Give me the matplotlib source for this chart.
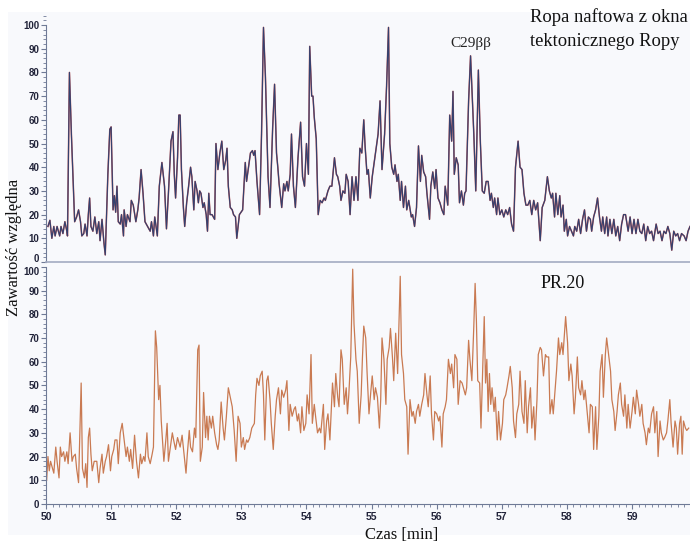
import matplotlib
matplotlib.use("Agg")
import matplotlib.pyplot as plt
from matplotlib.patches import Rectangle
from matplotlib.ticker import MultipleLocator

# ---- top chromatogram (crude oil) ----
top_t = [50.03, 50.06, 50.09, 50.12, 50.14, 50.17, 50.21, 50.23, 50.26, 50.29, 50.32, 50.33,
         50.36, 50.39, 50.44, 50.47, 50.50, 50.53, 50.55, 50.58, 50.60, 50.63, 50.65, 50.67,
         50.69, 50.72, 50.75, 50.78, 50.81, 50.83, 50.86, 50.89, 50.91, 50.95, 50.98, 51.00,
         51.03, 51.05, 51.07, 51.09, 51.11, 51.14, 51.16, 51.19, 51.20, 51.23, 51.25, 51.29,
         51.31, 51.34, 51.38, 51.41, 51.43, 51.46, 51.49, 51.52, 51.56, 51.60, 51.62, 51.65,
         51.67, 51.71, 51.74, 51.78, 51.82, 51.85, 51.88, 51.92, 51.95, 51.97, 51.99, 52.02,
         52.04, 52.06, 52.08, 52.11, 52.13, 52.16, 52.19, 52.22, 52.24, 52.27, 52.29, 52.32,
         52.34, 52.36, 52.38, 52.41, 52.43, 52.46, 52.48, 52.50, 52.52, 52.55, 52.59, 52.61,
         52.64, 52.67, 52.70, 52.73, 52.76, 52.78, 52.80, 52.83, 52.86, 52.88, 52.91, 52.93,
         52.97, 53.02, 53.06, 53.08, 53.11, 53.14, 53.17, 53.19, 53.21, 53.24, 53.28, 53.31,
         53.34, 53.37, 53.41, 53.44, 53.48, 53.51, 53.54, 53.56, 53.58, 53.62, 53.65, 53.67,
         53.70, 53.72, 53.75, 53.77, 53.80, 53.83, 53.87, 53.91, 53.94, 53.97, 54.00, 54.03,
         54.05, 54.08, 54.10, 54.12, 54.15, 54.18, 54.21, 54.24, 54.27, 54.29, 54.33, 54.36,
         54.39, 54.43, 54.46, 54.48, 54.51, 54.53, 54.56, 54.59, 54.61, 54.64, 54.67, 54.70,
         54.73, 54.76, 54.79, 54.82, 54.85, 54.88, 54.90, 54.93, 54.95, 54.98, 55.01, 55.05,
         55.10, 55.13, 55.16, 55.20, 55.23, 55.26, 55.28, 55.31, 55.34, 55.36, 55.39, 55.41,
         55.44, 55.46, 55.49, 55.52, 55.54, 55.57, 55.61, 55.63, 55.66, 55.69, 55.72, 55.75,
         55.77, 55.80, 55.83, 55.85, 55.89, 55.91, 55.94, 55.97, 55.99, 56.02, 56.05, 56.08,
         56.11, 56.13, 56.17, 56.20, 56.23, 56.25, 56.27, 56.30, 56.33, 56.35, 56.38, 56.41,
         56.43, 56.45, 56.49, 56.52, 56.57, 56.60, 56.64, 56.67, 56.70, 56.73, 56.76, 56.79,
         56.82, 56.84, 56.87, 56.89, 56.92, 56.94, 56.97, 57.00, 57.03, 57.06, 57.09, 57.12,
         57.15, 57.18, 57.21, 57.25, 57.28, 57.31, 57.34, 57.37, 57.40, 57.43, 57.46, 57.49,
         57.52, 57.55, 57.59, 57.62, 57.66, 57.70, 57.73, 57.76, 57.78, 57.81, 57.83, 57.86,
         57.89, 57.91, 57.94, 57.96, 57.99, 58.01, 58.04, 58.07, 58.10, 58.12, 58.15, 58.18,
         58.21, 58.24, 58.27, 58.30, 58.33, 58.36, 58.38, 58.41, 58.44, 58.47, 58.50, 58.53,
         58.55, 58.58, 58.61, 58.63, 58.66, 58.69, 58.72, 58.75, 58.78, 58.81, 58.84, 58.87,
         58.90, 58.94, 58.97, 59.00, 59.03, 59.06, 59.09, 59.12, 59.15, 59.18, 59.21, 59.24,
         59.27, 59.30, 59.33, 59.37, 59.40, 59.43, 59.46, 59.49, 59.52, 59.55, 59.58, 59.61,
         59.64, 59.67, 59.70, 59.73, 59.76, 59.80, 59.83, 59.86, 59.89]
top_v = [15, 17.6, 10, 15, 11, 15, 11, 15, 12, 17, 13, 11,
         80, 54, 17, 19, 22, 17, 11, 12, 16, 11, 20, 27,
         15, 13, 19, 12, 17, 9, 18, 8, 3, 37, 56, 57,
         22, 28, 21, 32, 17, 16, 20, 11, 22, 15, 20, 17,
         26, 24, 17, 22, 27, 39, 29, 17, 15, 13, 17, 11,
         19, 11, 32, 42, 32, 14, 29, 51, 55, 37, 27, 44,
         62, 62, 39, 23, 15, 25, 32, 40, 36, 22, 34, 30,
         25, 30, 29, 23, 25, 20, 13, 29, 20, 20, 18, 50,
         39, 46, 51, 39, 43, 48, 32, 23, 22, 20, 19, 10,
         20, 22, 42, 34, 40, 46, 47, 45, 47, 34, 20, 54,
         99, 78, 36, 23, 56, 75, 46, 40, 33, 23, 33, 30,
         34, 30, 37, 54, 32, 23, 44, 59, 36, 32, 50, 37,
         91, 70, 70, 61, 52, 20, 26, 25, 27, 26, 30, 32,
         32, 44, 37, 36, 32, 26, 30, 29, 37, 34, 20, 36,
         26, 36, 26, 48, 46, 60, 49, 37, 39, 27, 36, 44,
         54, 68, 39, 54, 74, 99, 50, 40, 37, 41, 34, 37,
         26, 34, 23, 32, 22, 26, 19, 20, 15, 23, 49, 34,
         45, 38, 36, 29, 18, 32, 38, 31, 39, 27, 25, 22,
         20, 32, 24, 62, 51, 72, 37, 44, 41, 25, 30, 24,
         29, 30, 68, 87, 54, 30, 81, 51, 30, 29, 34, 34,
         26, 29, 23, 27, 20, 27, 20, 22, 19, 22, 20, 23,
         16, 13, 40, 51, 40, 39, 29, 24, 24, 26, 20, 26,
         22, 25, 9, 23, 26, 36, 30, 27, 29, 19, 29, 20,
         28, 19, 24, 13, 18, 11, 15, 13, 11, 15, 13, 18,
         12, 18, 22, 13, 19, 18, 13, 19, 22, 27, 19, 13,
         19, 12, 19, 11, 18, 12, 18, 11, 15, 9, 16, 20,
         20, 13, 19, 12, 18, 12, 18, 13, 12, 16, 9, 15,
         12, 13, 9, 16, 12, 13, 9, 13, 12, 15, 12, 5,
         13, 11, 12, 9, 12, 11, 9, 13, 15]

# ---- bottom chromatogram (PR.20) ----
bot_t = [50.01, 50.03, 50.05, 50.07, 50.10, 50.12, 50.15, 50.17, 50.20, 50.22, 50.24, 50.27,
         50.29, 50.32, 50.34, 50.37, 50.40, 50.42, 50.45, 50.47, 50.50, 50.54, 50.56, 50.59,
         50.61, 50.63, 50.65, 50.67, 50.69, 50.71, 50.74, 50.78, 50.81, 50.83, 50.86, 50.88,
         50.91, 50.93, 50.96, 50.99, 51.01, 51.04, 51.06, 51.09, 51.11, 51.14, 51.17, 51.20,
         51.23, 51.25, 51.28, 51.30, 51.33, 51.36, 51.39, 51.42, 51.45, 51.47, 51.50, 51.52,
         51.55, 51.57, 51.60, 51.63, 51.65, 51.68, 51.70, 51.73, 51.75, 51.77, 51.81, 51.84,
         51.86, 51.88, 51.91, 51.94, 51.96, 51.99, 52.02, 52.04, 52.06, 52.09, 52.12, 52.15,
         52.17, 52.20, 52.22, 52.25, 52.28, 52.30, 52.33, 52.35, 52.37, 52.40, 52.42, 52.45,
         52.47, 52.49, 52.51, 52.54, 52.56, 52.59, 52.62, 52.64, 52.66, 52.69, 52.72, 52.74,
         52.77, 52.80, 52.83, 52.86, 52.89, 52.92, 52.95, 52.98, 53.00, 53.03, 53.05, 53.08,
         53.10, 53.13, 53.16, 53.20, 53.22, 53.24, 53.27, 53.29, 53.32, 53.34, 53.36, 53.39,
         53.41, 53.44, 53.46, 53.49, 53.52, 53.54, 53.57, 53.60, 53.62, 53.65, 53.68, 53.70,
         53.73, 53.75, 53.78, 53.81, 53.83, 53.86, 53.88, 53.91, 53.93, 53.96, 53.99, 54.01,
         54.04, 54.07, 54.09, 54.12, 54.14, 54.17, 54.20, 54.22, 54.26, 54.28, 54.31, 54.33,
         54.36, 54.40, 54.43, 54.45, 54.48, 54.50, 54.53, 54.55, 54.58, 54.61, 54.63, 54.65,
         54.68, 54.71, 54.73, 54.76, 54.78, 54.81, 54.84, 54.86, 54.88, 54.91, 54.93, 54.96,
         54.99, 55.01, 55.04, 55.06, 55.09, 55.12, 55.14, 55.16, 55.19, 55.22, 55.24, 55.27,
         55.29, 55.32, 55.34, 55.37, 55.40, 55.44, 55.46, 55.49, 55.51, 55.54, 55.56, 55.59,
         55.62, 55.64, 55.67, 55.69, 55.72, 55.74, 55.77, 55.80, 55.82, 55.85, 55.87, 55.90,
         55.92, 55.95, 55.97, 56.00, 56.03, 56.05, 56.08, 56.10, 56.13, 56.15, 56.18, 56.21,
         56.23, 56.26, 56.28, 56.31, 56.33, 56.36, 56.39, 56.41, 56.44, 56.46, 56.49, 56.51,
         56.54, 56.57, 56.59, 56.61, 56.63, 56.66, 56.68, 56.71, 56.73, 56.75, 56.77, 56.79,
         56.81, 56.83, 56.85, 56.88, 56.90, 56.93, 56.95, 56.98, 57.01, 57.03, 57.06, 57.08,
         57.11, 57.13, 57.16, 57.18, 57.21, 57.23, 57.26, 57.28, 57.31, 57.34, 57.36, 57.39,
         57.41, 57.44, 57.46, 57.49, 57.51, 57.54, 57.56, 57.59, 57.61, 57.64, 57.67, 57.69,
         57.72, 57.74, 57.77, 57.79, 57.82, 57.84, 57.87, 57.89, 57.92, 57.94, 57.98, 58.01,
         58.03, 58.06, 58.08, 58.11, 58.13, 58.16, 58.18, 58.21, 58.23, 58.26, 58.28, 58.31,
         58.34, 58.36, 58.39, 58.41, 58.44, 58.46, 58.49, 58.51, 58.54, 58.56, 58.59, 58.61,
         58.64, 58.67, 58.69, 58.72, 58.74, 58.77, 58.79, 58.82, 58.84, 58.87, 58.89, 58.92,
         58.94, 58.97, 59.00, 59.02, 59.05, 59.07, 59.10, 59.12, 59.15, 59.17, 59.20, 59.22,
         59.25, 59.27, 59.30, 59.33, 59.35, 59.38, 59.40, 59.43, 59.45, 59.48, 59.50, 59.53,
         59.55, 59.58, 59.60, 59.63, 59.66, 59.68, 59.70, 59.73, 59.75, 59.77, 59.79, 59.82,
         59.84, 59.87]
bot_v = [10, 20, 14, 18, 15, 13, 24, 18, 11, 24, 20, 22,
         18, 22, 17, 30, 18, 20, 21, 15, 9, 51, 15, 11,
         17, 7, 28, 32, 21, 14, 18, 18, 9, 15, 21, 13,
         18, 20, 25, 14, 20, 23, 27, 27, 17, 30, 34, 27,
         20, 24, 18, 23, 15, 29, 18, 11, 21, 17, 20, 18,
         30, 20, 17, 21, 24, 73, 66, 44, 50, 35, 18, 27,
         34, 18, 24, 30, 27, 23, 28, 26, 24, 29, 21, 13,
         21, 31, 24, 22, 32, 28, 65, 67, 18, 24, 47, 28,
         37, 27, 37, 32, 37, 30, 25, 23, 27, 43, 32, 27,
         37, 49, 45, 41, 31, 18, 37, 34, 24, 28, 23, 27,
         26, 28, 32, 34, 46, 53, 50, 54, 56, 46, 27, 52,
         54, 44, 34, 23, 37, 44, 49, 38, 48, 45, 48, 52,
         31, 42, 37, 40, 41, 35, 38, 30, 41, 31, 34, 46,
         38, 63, 34, 42, 37, 30, 32, 30, 42, 23, 35, 38,
         27, 51, 41, 55, 45, 41, 65, 61, 42, 49, 38, 46,
         62, 99, 76, 61, 56, 34, 46, 62, 75, 70, 56, 38,
         48, 54, 44, 49, 45, 32, 44, 70, 61, 42, 61, 66,
         74, 62, 52, 72, 55, 96, 63, 55, 44, 41, 21, 44,
         37, 39, 34, 39, 42, 37, 42, 46, 55, 46, 41, 54,
         38, 27, 39, 38, 35, 37, 24, 38, 41, 44, 61, 55,
         59, 49, 63, 61, 42, 52, 51, 49, 46, 49, 69, 61,
         52, 75, 93, 77, 52, 51, 32, 61, 79, 51, 61, 39,
         55, 42, 49, 39, 45, 27, 39, 27, 34, 44, 46, 49,
         54, 58, 49, 35, 28, 38, 42, 56, 39, 34, 52, 30,
         41, 49, 32, 41, 27, 44, 63, 66, 65, 54, 63, 62,
         62, 38, 44, 38, 49, 56, 70, 63, 68, 63, 79, 68,
         52, 59, 54, 38, 45, 62, 49, 46, 52, 44, 48, 39,
         30, 42, 41, 23, 41, 23, 37, 56, 63, 45, 63, 70,
         63, 56, 44, 39, 31, 39, 46, 51, 42, 37, 46, 32,
         42, 32, 39, 45, 38, 48, 42, 37, 42, 34, 30, 25,
         32, 30, 38, 41, 30, 39, 20, 35, 30, 27, 28, 30,
         35, 44, 34, 24, 35, 32, 21, 34, 37, 21, 35, 32,
         31, 32]

x_major = [50, 51, 52, 53, 54, 55, 56, 57, 58, 59]
y_major = [0, 10, 20, 30, 40, 50, 60, 70, 80, 90, 100]

W, H = 690, 545
fig = plt.figure(figsize=(W / 100, H / 100), dpi=100)
fig.patch.set_facecolor("white")
fig.add_artist(Rectangle((8 / W, 1 - 535 / H), (W - 8) / W, (535 - 12) / H,
                         transform=fig.transFigure, facecolor="#f8f9fc",
                         edgecolor="none", zorder=-5))

L = 46 / W
ax1 = fig.add_axes([L, 1 - 262 / H, 1 - L, (262 - 12) / H])
ax2 = fig.add_axes([L, 1 - 504 / H, 1 - L, (504 - 263) / H])

axis_col = "#6f7a96"
tick_font = dict(family="Liberation Sans", size=7, weight="bold")

for ax in (ax1, ax2):
    ax.set_facecolor("none")
    ax.set_xlim(50, 59.89)
    for s in ("top", "right"):
        ax.spines[s].set_visible(False)
    ax.spines["left"].set_color(axis_col)
    ax.spines["left"].set_bounds(0, 100)
    ax.set_yticks(y_major)
    ax.yaxis.set_minor_locator(MultipleLocator(2))
    ax.tick_params(axis="y", which="major", length=3.8, width=0.8, color=axis_col,
                   pad=1, labelcolor="#22243a")
    ax.tick_params(axis="y", which="minor", length=2.2, width=0.6, color=axis_col)
    ax.set_yticklabels([str(v) for v in y_major], **tick_font)

ax1.set_ylim(0, 105.5)
ax1.spines["bottom"].set_color("#a3abc2")
ax1.spines["bottom"].set_linewidth(1.2)
ax1.set_xticks([])
# the zero label of the upper panel sits just above the divider, as in the source
ax1.get_yticklabels()[0].set_va("baseline")
ax2.get_yticklabels()[-1].set_va("top")

ax2.set_ylim(0, 101.6)
ax2.spines["bottom"].set_color(axis_col)
ax2.set_xticks(x_major)
ax2.set_xticklabels([str(v) for v in x_major], size=7.5, family="Liberation Sans",
                    weight="bold")
ax2.xaxis.set_minor_locator(MultipleLocator(0.1))
ax2.tick_params(axis="x", which="major", length=3.8, width=0.8, color=axis_col,
                labelcolor="#22243a", pad=2)
ax2.tick_params(axis="x", which="minor", length=2.2, width=0.6, color=axis_col)

ax1.plot(top_t, top_v, color="#cc5a55", lw=1.1, zorder=2)
ax1.plot(top_t, top_v, color="#34416f", lw=0.85, zorder=3)
ax2.plot(bot_t, bot_v, color="#c97a52", lw=0.9)

serif = "Liberation Serif"
fig.text(530 / W, 1 - 17 / H, "Ropa naftowa z okna", family=serif, fontsize=13.4,
         ha="left", va="center", color="#111111")
fig.text(530 / W, 1 - 42 / H, "tektonicznego Ropy", family=serif, fontsize=13.4,
         ha="left", va="center", color="#111111")
fig.text(471 / W, 1 - 43 / H, "C29\u03b2\u03b2", family=serif, fontsize=11,
         ha="center", va="center", color="#222222")
fig.text(563 / W, 1 - 284 / H, "PR.20", family=serif, fontsize=13,
         ha="center", va="center", color="#111111")
fig.text(14 / W, 1 - 247 / H, "Zawartość względna", family=serif, fontsize=12,
         rotation=90, ha="center", va="center", color="#111111")
fig.text(402 / W, 1 - 535 / H, "Czas [min]", family=serif, fontsize=12,
         ha="center", va="center", color="#111111")

fig.savefig("out.png", dpi=100)
